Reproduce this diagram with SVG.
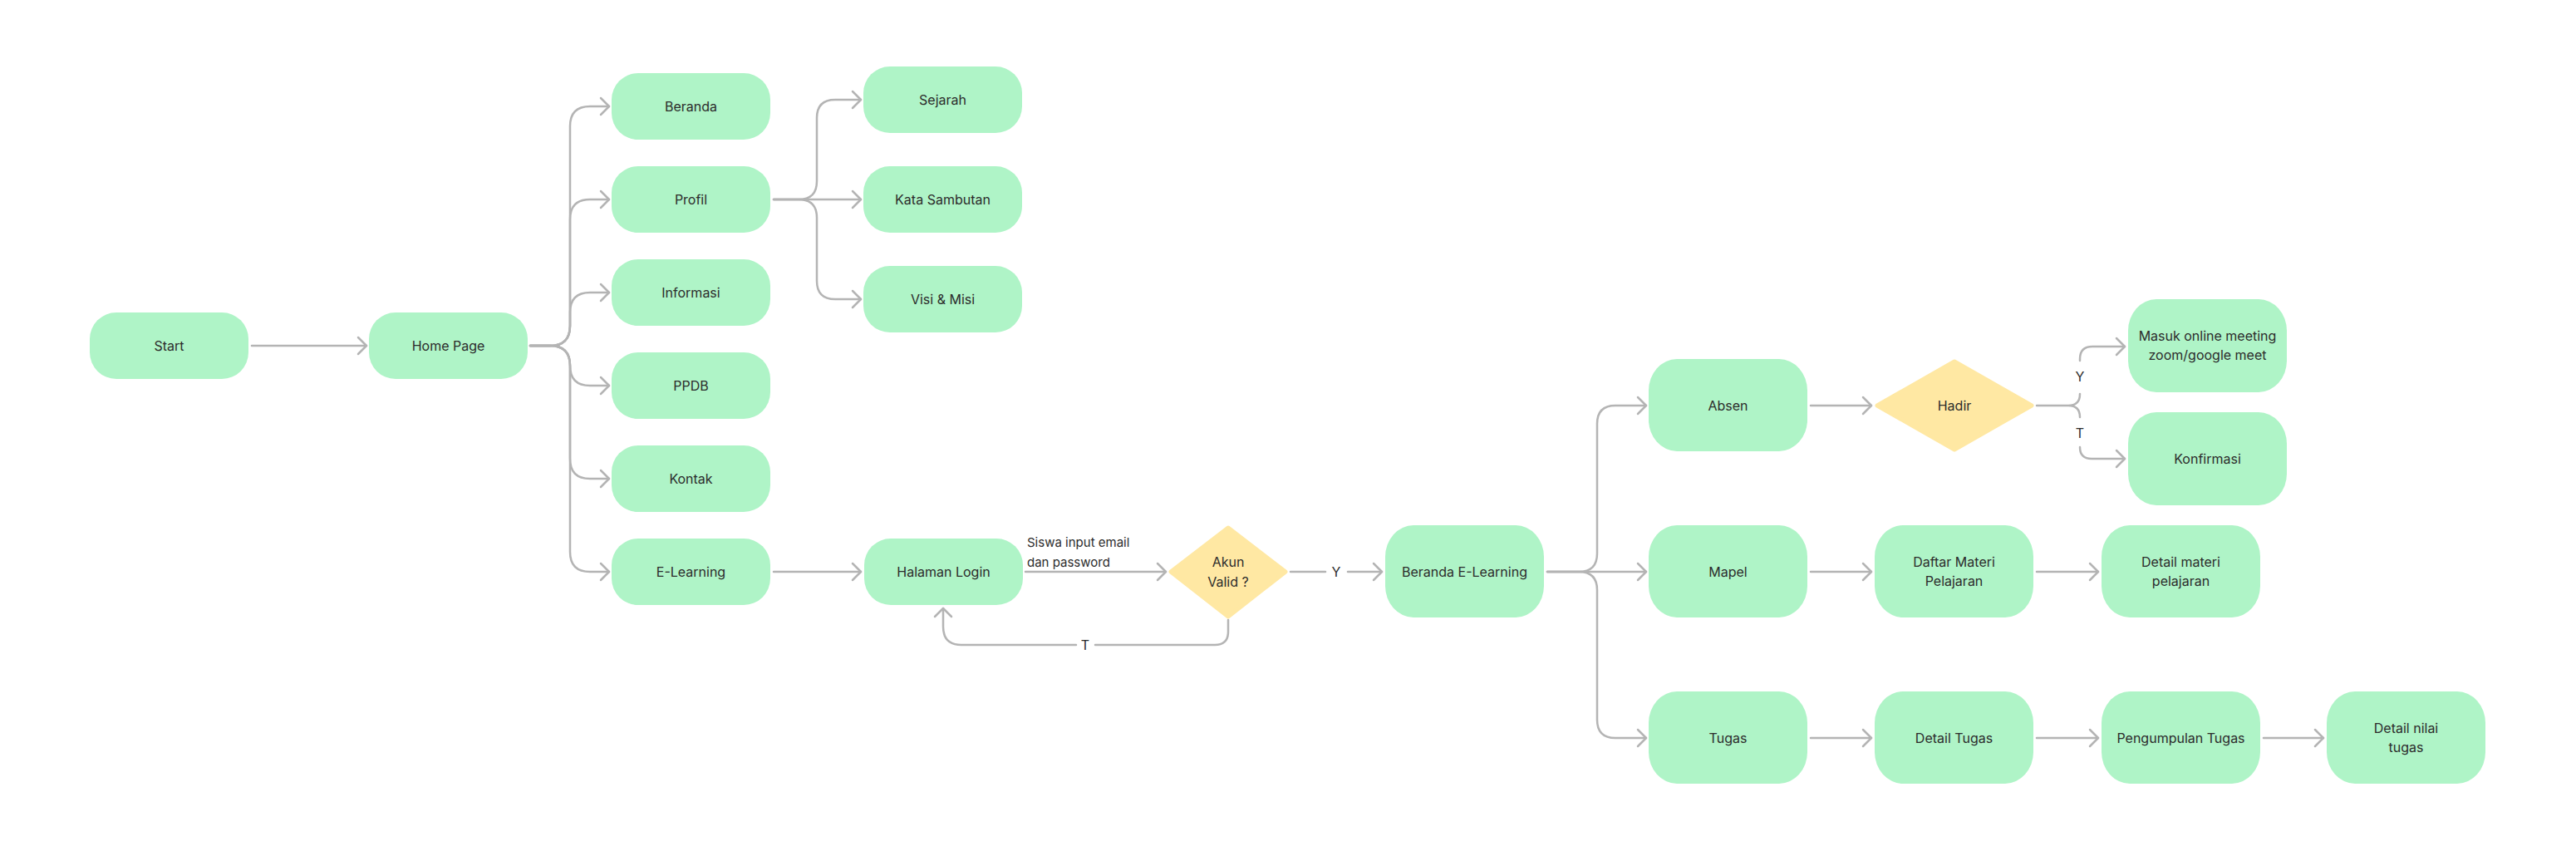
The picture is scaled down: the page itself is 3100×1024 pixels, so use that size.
<svg xmlns="http://www.w3.org/2000/svg" width="3100" height="1024" viewBox="0 0 3100 1024">
<style>
.n{fill:#aff4c7}
.d{fill:#ffe8a3;stroke:#ffe8a3;stroke-width:5;stroke-linejoin:round}
.t{font-family:Inter,"Noto Sans",sans-serif;font-size:16px;fill:#2c2c2c;text-anchor:middle}
.l{font-family:Inter,"Noto Sans",sans-serif;font-size:15px;fill:#2c2c2c}
.c{fill:none;stroke:#b4b4b4;stroke-width:2.5;stroke-linecap:round;stroke-linejoin:round}
</style>
<defs>
<marker id="a" markerUnits="userSpaceOnUse" markerWidth="30" markerHeight="30" viewBox="-15 -15 30 30" refX="0" refY="0" orient="auto">
<path d="M-10,-10 L0,0 L-10,10" fill="none" stroke="#b4b4b4" stroke-width="2.5" stroke-linecap="round" stroke-linejoin="round"/>
</marker>
</defs>
<rect width="3100" height="1024" fill="#ffffff"/>
<g id="connectors">
<path class="c" marker-end="url(#a)" d="M303,416 H441"/>
<path class="c" marker-end="url(#a)" d="M638,416 H662 Q686,416 686,392 V152 Q686,128 710,128 H733"/>
<path class="c" marker-end="url(#a)" d="M638,416 H662 Q686,416 686,392 V264 Q686,240 710,240 H733"/>
<path class="c" marker-end="url(#a)" d="M638,416 H662 Q686,416 686,392 V376 Q686,352 710,352 H733"/>
<path class="c" marker-end="url(#a)" d="M638,416 H662 Q686,416 686,440 Q686,464 710,464 H733"/>
<path class="c" marker-end="url(#a)" d="M638,416 H662 Q686,416 686,440 V552 Q686,576 710,576 H733"/>
<path class="c" marker-end="url(#a)" d="M638,416 H662 Q686,416 686,440 V664 Q686,688 710,688 H733"/>
<path class="c" marker-end="url(#a)" d="M931,240 H1036"/>
<path class="c" marker-end="url(#a)" d="M931,240 H961 Q983,240 983,218 V142 Q983,120 1005,120 H1036"/>
<path class="c" marker-end="url(#a)" d="M931,240 H961 Q983,240 983,262 V338 Q983,360 1005,360 H1036"/>
<path class="c" marker-end="url(#a)" d="M931,688 H1036"/>
<path class="c" marker-end="url(#a)" d="M1234,688 H1403"/>
<path class="c" d="M1553,688 H1595"/>
<path class="c" marker-end="url(#a)" d="M1622,688 H1663"/>
<path class="c" d="M1478,746 V760 Q1478,776 1462,776 H1318"/>
<path class="c" marker-end="url(#a)" d="M1295,776 H1157 Q1135,776 1135,754 V732"/>
<path class="c" marker-end="url(#a)" d="M1862,688 H1981"/>
<path class="c" marker-end="url(#a)" d="M1862,688 H1900 Q1922,688 1922,666 V510 Q1922,488 1944,488 H1981"/>
<path class="c" marker-end="url(#a)" d="M1862,688 H1900 Q1922,688 1922,710 V866 Q1922,888 1944,888 H1981"/>
<path class="c" marker-end="url(#a)" d="M2179,488 H2252"/>
<path class="c" d="M2451,488 H2489 Q2503,488 2503,474 M2489,488 Q2503,488 2503,502"/>
<path class="c" marker-end="url(#a)" d="M2503,434 V432 Q2503,417 2518,417 H2557"/>
<path class="c" marker-end="url(#a)" d="M2503,538 Q2503,552 2517,552 H2557"/>
<path class="c" marker-end="url(#a)" d="M2179,688 H2252"/>
<path class="c" marker-end="url(#a)" d="M2451,688 H2525"/>
<path class="c" marker-end="url(#a)" d="M2179,888 H2252"/>
<path class="c" marker-end="url(#a)" d="M2451,888 H2525"/>
<path class="c" marker-end="url(#a)" d="M2724,888 H2796"/>
<text class="l" x="1236" y="658">Siswa input email</text>
<text class="l" x="1236" y="682">dan password</text>
<text class="t" x="1608" y="694">Y</text>
<text class="t" x="1306" y="782">T</text>
<text class="t" x="2503" y="459">Y</text>
<text class="t" x="2503" y="527">T</text>
</g>
<g id="start"><rect class="n" x="108" y="376" width="191" height="80" rx="32"/><text class="t" x="203.5" y="422">Start</text></g>
<g id="home-page"><rect class="n" x="444" y="376" width="191" height="80" rx="32"/><text class="t" x="539.5" y="422">Home Page</text></g>
<g id="beranda"><rect class="n" x="736" y="88" width="191" height="80" rx="32"/><text class="t" x="831.5" y="134">Beranda</text></g>
<g id="profil"><rect class="n" x="736" y="200" width="191" height="80" rx="32"/><text class="t" x="831.5" y="246">Profil</text></g>
<g id="informasi"><rect class="n" x="736" y="312" width="191" height="80" rx="32"/><text class="t" x="831.5" y="358">Informasi</text></g>
<g id="ppdb"><rect class="n" x="736" y="424" width="191" height="80" rx="32"/><text class="t" x="831.5" y="470">PPDB</text></g>
<g id="kontak"><rect class="n" x="736" y="536" width="191" height="80" rx="32"/><text class="t" x="831.5" y="582">Kontak</text></g>
<g id="e-learning"><rect class="n" x="736" y="648" width="191" height="80" rx="32"/><text class="t" x="831.5" y="694">E-Learning</text></g>
<g id="sejarah"><rect class="n" x="1039" y="80" width="191" height="80" rx="32"/><text class="t" x="1134.5" y="126">Sejarah</text></g>
<g id="kata-sambutan"><rect class="n" x="1039" y="200" width="191" height="80" rx="32"/><text class="t" x="1134.5" y="246">Kata Sambutan</text></g>
<g id="visi-misi"><rect class="n" x="1039" y="320" width="191" height="80" rx="32"/><text class="t" x="1134.5" y="366">Visi &amp; Misi</text></g>
<g id="halaman-login"><rect class="n" x="1040" y="648" width="191" height="80" rx="32"/><text class="t" x="1135.5" y="694">Halaman Login</text></g>
<g id="akun-valid"><polygon class="d" points="1478,635 1547,688 1478,742 1409,688"/><text class="t" x="1478" y="682">Akun</text><text class="t" x="1478" y="706">Valid ?</text></g>
<g id="beranda-e-learning"><rect class="n" x="1667" y="632" width="191" height="111" rx="34" ry="38"/><text class="t" x="1762.5" y="694">Beranda E-Learning</text></g>
<g id="absen"><rect class="n" x="1984" y="432" width="191" height="111" rx="34" ry="38"/><text class="t" x="2079.5" y="494">Absen</text></g>
<g id="hadir"><polygon class="d" points="2352,435 2445,488 2352,541 2259,488"/><text class="t" x="2352" y="494">Hadir</text></g>
<g id="masuk-online-meeting"><rect class="n" x="2561" y="360" width="191" height="112" rx="34" ry="38"/><text class="t" x="2656.5" y="410">Masuk online meeting</text><text class="t" x="2656.5" y="433">zoom/google meet</text></g>
<g id="konfirmasi"><rect class="n" x="2561" y="496" width="191" height="112" rx="34" ry="38"/><text class="t" x="2656.5" y="558">Konfirmasi</text></g>
<g id="mapel"><rect class="n" x="1984" y="632" width="191" height="111" rx="34" ry="38"/><text class="t" x="2079.5" y="694">Mapel</text></g>
<g id="daftar-materi"><rect class="n" x="2256" y="632" width="191" height="111" rx="34" ry="38"/><text class="t" x="2351.5" y="682">Daftar Materi</text><text class="t" x="2351.5" y="705">Pelajaran</text></g>
<g id="detail-materi"><rect class="n" x="2529" y="632" width="191" height="111" rx="34" ry="38"/><text class="t" x="2624.5" y="682">Detail materi</text><text class="t" x="2624.5" y="705">pelajaran</text></g>
<g id="tugas"><rect class="n" x="1984" y="832" width="191" height="111" rx="34" ry="38"/><text class="t" x="2079.5" y="894">Tugas</text></g>
<g id="detail-tugas"><rect class="n" x="2256" y="832" width="191" height="111" rx="34" ry="38"/><text class="t" x="2351.5" y="894">Detail Tugas</text></g>
<g id="pengumpulan-tugas"><rect class="n" x="2529" y="832" width="191" height="111" rx="34" ry="38"/><text class="t" x="2624.5" y="894">Pengumpulan Tugas</text></g>
<g id="detail-nilai-tugas"><rect class="n" x="2800" y="832" width="191" height="111" rx="34" ry="38"/><text class="t" x="2895.5" y="882">Detail nilai</text><text class="t" x="2895.5" y="905">tugas</text></g>
</svg>
